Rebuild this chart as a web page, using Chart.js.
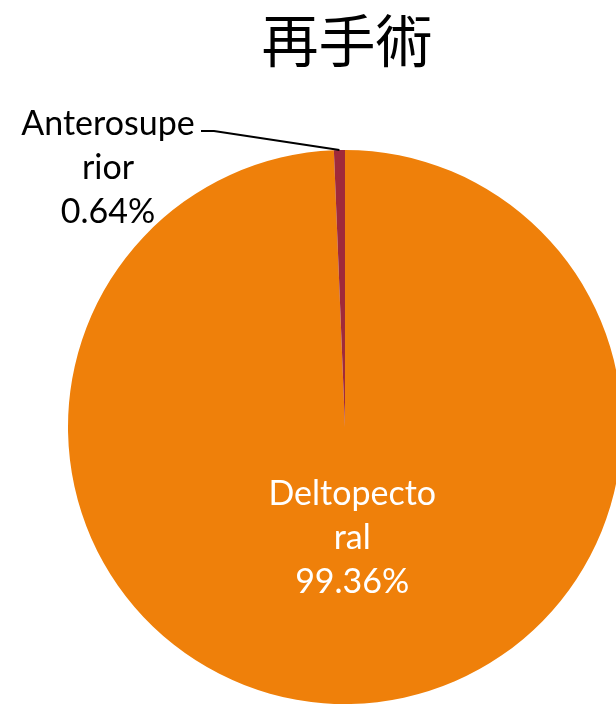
<!DOCTYPE html>
<html>
<head>
<meta charset="utf-8">
<script src="https://cdn.jsdelivr.net/npm/chart.js@4.4.0/dist/chart.umd.min.js"></script>
<style>
  html, body { margin: 0; padding: 0; background: #fff; overflow: hidden; }
  #wrap { width: 616px; height: 707px; overflow: hidden; position: relative; }
  #wrap canvas { position: absolute; left: 0; top: 0; }
</style>
</head>
<body>
<div id="wrap"><canvas id="pie" width="700" height="707"></canvas></div>
<script>
// 📦 Data
const chartTitle = '再手術';
const labels = ['Deltopectoral', 'Anterosuperior'];
const values = [99.36, 0.64];
// label text as wrapped in the original
const labelLines = [['Deltopecto', 'ral', '99.36%'], ['Anterosupe', 'rior', '0.64%']];
const colors = ['#EF800A', '#A02A3A'];

// 🏷️ Title + data labels
const labelPlugin = {
  id: 'labelPlugin',
  afterDraw(chart) {
    const ctx = chart.ctx;
    ctx.save();
    ctx.textAlign = 'center';
    ctx.textBaseline = 'middle';

    // title
    ctx.fillStyle = '#000';
    ctx.font = '400 57px "Noto Sans CJK JP"';
    ctx.fillText(chartTitle, 347, 40);

    const arcs = chart.getDatasetMeta(0).data;
    const lineH = 44;

    // big slice: label inside
    const a0 = arcs[0];
    const mid0 = (a0.startAngle + a0.endAngle) / 2;
    const r0 = a0.outerRadius * 0.4;
    const x0 = a0.x + Math.cos(mid0) * r0 + 5;
    const y0 = a0.y + Math.sin(mid0) * r0;
    ctx.font = '34px Lato';
    ctx.fillStyle = '#fff';
    labelLines[0].forEach((t, i) => ctx.fillText(t, x0, y0 + (i - 1) * lineH));

    // small slice: label outside with leader line
    const a1 = arcs[1];
    const mid1 = (a1.startAngle + a1.endAngle) / 2;
    const px = a1.x + Math.cos(mid1) * a1.outerRadius;
    const py = a1.y + Math.sin(mid1) * a1.outerRadius;
    ctx.strokeStyle = '#000';
    ctx.lineWidth = 2;
    ctx.beginPath();
    ctx.moveTo(px, py);
    ctx.lineTo(214, 131);
    ctx.lineTo(201, 131);
    ctx.stroke();
    ctx.fillStyle = '#000';
    labelLines[1].forEach((t, i) => ctx.fillText(t, 108, 124 + i * lineH));

    ctx.restore();
  }
};

// 🥧 Pie
new Chart(document.getElementById('pie').getContext('2d'), {
  type: 'pie',
  data: {
    labels: labels,
    datasets: [{
      data: values,
      backgroundColor: colors,
      borderWidth: 0
    }]
  },
  options: {
    responsive: false,
    animation: false,
    layout: { padding: { left: 68, right: 78, top: 150, bottom: 3 } },
    plugins: {
      legend: { display: false },
      tooltip: { enabled: false }
    }
  },
  plugins: [labelPlugin]
});
</script>
</body>
</html>
